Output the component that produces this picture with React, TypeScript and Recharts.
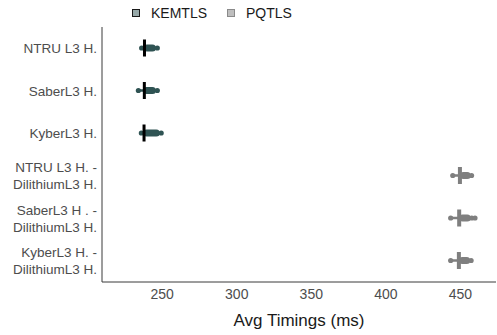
import { ComposedChart, Bar, XAxis, YAxis, Label } from "recharts"

const categories = [
  "NTRU L3 H.",
  "SaberL3 H.",
  "KyberL3 H.",
  "NTRU L3 H. -\nDilithiumL3 H.",
  "SaberL3 H . -\nDilithiumL3 H.",
  "KyberL3 H. -\nDilithiumL3 H.",
]
const groups = ["KEMTLS", "KEMTLS", "KEMTLS", "PQTLS", "PQTLS", "PQTLS"]
const lowValues = [236.2, 234.0, 236.0, 444.9, 443.5, 443.5]
const q1Values = [237.4, 237.2, 237.1, 449.6, 449.1, 448.9]
const medianValues = [238.1, 238.0, 237.8, 449.7, 449.2, 449.0]
const q3Values = [245.8, 245.8, 248.4, 457.0, 457.0, 456.6]
const highValues = [246.7, 246.7, 249.3, 457.5, 457.6, 457.2]
const outlierValues: number[][] = [[], [], [], [], [459.8], []]
const xTicks = [250, 300, 350, 400, 450]

const colors: Record<string, { fill: string; median: string; key: string; keyBorder: string }> = {
  KEMTLS: { fill: "#2f5353", median: "#000000", key: "#97a9a9", keyBorder: "#1a1a1a" },
  PQTLS: { fill: "#7f7f7f", median: "#7f7f7f", key: "#bebebe", keyBorder: "#8a8a8a" },
}

const data = categories.map((name, i) => ({
  name,
  group: groups[i],
  low: lowValues[i],
  q1: q1Values[i],
  median: medianValues[i],
  q3: q3Values[i],
  high: highValues[i],
  outliers: outlierValues[i],
  range: [lowValues[i], Math.max(highValues[i], ...outlierValues[i])],
}))

const font = "'Liberation Sans', Arial, sans-serif"

function BoxShape(props: any) {
  const { x, y, width, height, payload } = props
  const [lo, hi] = payload.range
  const px = (v: number) => x + ((v - lo) / (hi - lo)) * width
  const cy = y + height / 2
  const c = colors[payload.group]
  const isKem = payload.group === "KEMTLS"
  return (
    <g>
      <line x1={px(payload.low)} x2={px(payload.high)} y1={cy} y2={cy} stroke={c.fill} strokeWidth={2.5} />
      <rect
        x={px(payload.q1)}
        y={cy - 3.5}
        width={px(payload.q3) - px(payload.q1)}
        height={7}
        rx={3.5}
        fill={c.fill}
      />
      <circle cx={px(payload.low)} cy={cy} r={2.6} fill={c.fill} />
      <circle cx={px(payload.high)} cy={cy} r={2.6} fill={c.fill} />
      {payload.outliers.map((o: number, i: number) => (
        <circle key={i} cx={px(o)} cy={cy} r={2.6} fill={c.fill} />
      ))}
      <rect
        x={px(payload.median) - (isKem ? 1.5 : 2)}
        y={cy - 8.5}
        width={isKem ? 3 : 4}
        height={17}
        fill={c.median}
      />
    </g>
  )
}

function YTick(props: any) {
  const { x, y, payload } = props
  const lines = String(payload.value).split("\n")
  const lh = 17
  const start = y - ((lines.length - 1) * lh) / 2
  return (
    <text x={x} y={start} textAnchor="end" fontSize={13.5} fill="#4d4d4d" fontFamily={font}>
      {lines.map((l, i) => (
        <tspan key={i} x={x} y={start + i * lh} dy="0.36em">
          {l}
        </tspan>
      ))}
    </text>
  )
}

function LegendBox() {
  const item = (label: string) => (
    <div style={{ display: "flex", alignItems: "center", marginRight: 20 }}>
      <div
        style={{
          width: 6,
          height: 6,
          background: colors[label].key,
          border: `1.5px solid ${colors[label].keyBorder}`,
          marginRight: 11,
        }}
      />
      <span style={{ fontSize: 14, color: "#1a1a1a" }}>{label}</span>
    </div>
  )
  return (
    <div
      style={{
        position: "absolute",
        left: 132,
        top: 4,
        height: 17,
        display: "flex",
        alignItems: "center",
        fontFamily: font,
      }}
    >
      {item("KEMTLS")}
      {item("PQTLS")}
    </div>
  )
}

export default function App() {
  return (
    <div style={{ position: "absolute", left: 0, top: 0, width: 497, height: 335, background: "#fff" }}>
      <ComposedChart
        width={497}
        height={335}
        data={data}
        layout="vertical"
        margin={{ top: 27, right: 1, left: 0, bottom: 0 }}
      >
        <XAxis
          type="number"
          domain={[209.6, 473.9]}
          ticks={xTicks}
          allowDataOverflow
          height={53}
          tickSize={0}
          tickMargin={7}
          axisLine={{ stroke: "#3a3a3a", strokeWidth: 1 }}
          tick={{ fill: "#4d4d4d", fontSize: 14, fontFamily: font }}
        >
          <Label
            value="Avg Timings (ms)"
            position="insideBottom"
            offset={9}
            style={{ fill: "#1a1a1a", fontSize: 17, fontFamily: font }}
          />
        </XAxis>
        <YAxis
          type="category"
          dataKey="name"
          width={102}
          tickSize={0}
          tickMargin={5}
          interval={0}
          axisLine={{ stroke: "#3a3a3a", strokeWidth: 1 }}
          tick={<YTick />}
        />
        <Bar dataKey="range" barSize={8} shape={<BoxShape />} isAnimationActive={false} />
      </ComposedChart>
      <LegendBox />
    </div>
  )
}
